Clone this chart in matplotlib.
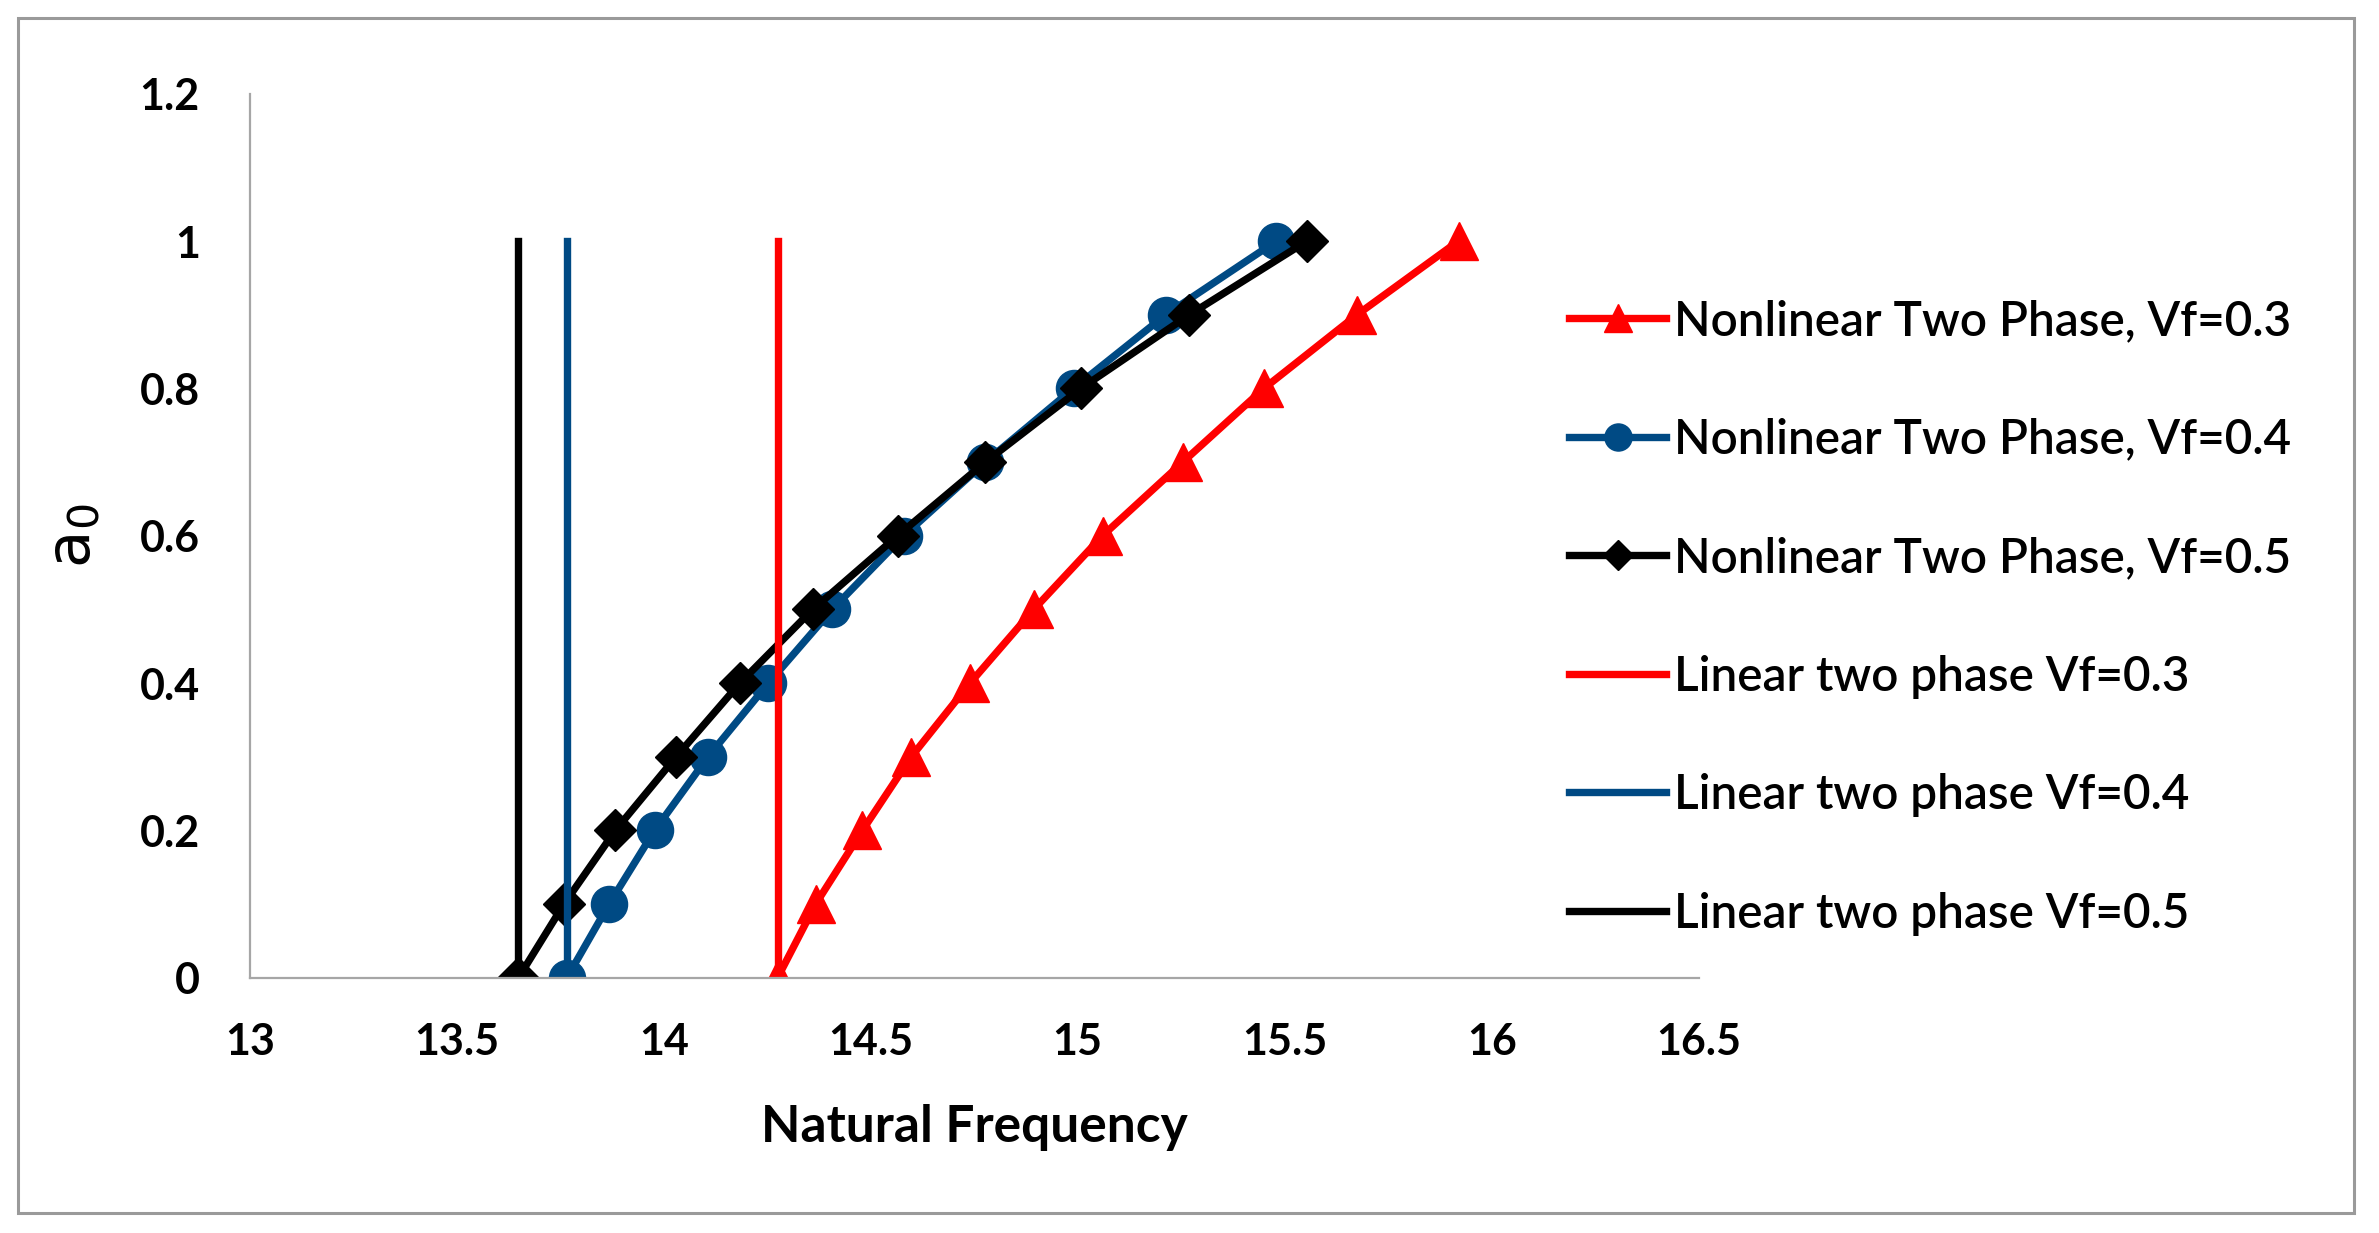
import numpy as np
import matplotlib
matplotlib.use("Agg")
import matplotlib.pyplot as plt
from matplotlib.patches import Rectangle

# a0 levels shared by all nonlinear curves
a0 = [0.0, 0.1, 0.2, 0.3, 0.4, 0.5, 0.6, 0.7, 0.8, 0.9, 1.0]

# natural frequency
freq_vf03 = [14.275, 14.367, 14.48, 14.598, 14.74, 14.894, 15.06, 15.254, 15.45, 15.675, 15.92]
freq_vf04 = [13.766, 13.868, 13.978, 14.107, 14.253, 14.407, 14.58, 14.777, 14.99, 15.213, 15.48]
freq_vf05 = [13.649, 13.759, 13.883, 14.03, 14.184, 14.36, 14.565, 14.777, 15.008, 15.27, 15.554]

# linear natural frequencies (vertical lines from a0=0 to a0=1)
linear_freq = [14.275, 13.766, 13.649]
linear_a0 = [0.0, 1.0]

labels_nl = ["Nonlinear Two Phase, Vf=0.3", "Nonlinear Two Phase, Vf=0.4",
             "Nonlinear Two Phase, Vf=0.5"]
labels_lin = ["Linear two phase Vf=0.3", "Linear two phase Vf=0.4",
              "Linear two phase Vf=0.5"]

xticks = [13, 13.5, 14, 14.5, 15, 15.5, 16, 16.5]
yticks = [0, 0.2, 0.4, 0.6, 0.8, 1.0, 1.2]

RED = "#FF0000"
BLUE = "#004A84"
BLACK = "#000000"

plt.rcParams["font.family"] = ["Lato", "DejaVu Sans"]

fig = plt.figure(figsize=(23.79, 12.33), dpi=100)
ax = fig.add_axes([0.105, 0.207, 0.609, 0.717])

lw = 5.3
ax.plot(freq_vf03, a0, "-^", color=RED, lw=lw, ms=27, label=labels_nl[0])
ax.plot(freq_vf04, a0, "-o", color=BLUE, lw=lw, ms=26, label=labels_nl[1])
ax.plot(freq_vf05, a0, "-D", color=BLACK, lw=lw, ms=21, label=labels_nl[2])

for f, c, lab in zip(linear_freq, [RED, BLUE, BLACK], labels_lin):
    ax.plot([f, f], linear_a0, "-", color=c, lw=lw, label=lab)

ax.set_xlim(13, 16.5)
ax.set_ylim(0, 1.2)
ax.set_xticks(xticks)
ax.set_xticklabels([f"{t:g}" for t in xticks])
ax.set_yticks(yticks)
ax.set_yticklabels([f"{t:g}" for t in yticks])
ax.tick_params(length=0)
ax.tick_params(axis="y", pad=36)
ax.tick_params(axis="x", pad=32)
for lbl in ax.get_xticklabels() + ax.get_yticklabels():
    lbl.set_fontweight("bold")
    lbl.set_fontsize(31)

for s in ["top", "right"]:
    ax.spines[s].set_visible(False)
for s in ["left", "bottom"]:
    ax.spines[s].set_color("#A6A6A6")
    ax.spines[s].set_linewidth(1.6)

ax.set_xlabel("Natural Frequency", fontsize=37, fontweight="bold", labelpad=30)
ax.set_ylabel(r"a$_0$", fontsize=44, family="DejaVu Sans", labelpad=26)

leg = fig.legend(loc="upper left", bbox_to_anchor=(0.6514, 0.773), frameon=False,
                 fontsize=34.3, handlelength=2.05, handletextpad=0.15,
                 labelspacing=1.565, borderaxespad=0, markerscale=0.75)
for t in leg.get_texts():
    t.set_fontweight("semibold")

# outer chart border
fig.patches.append(Rectangle((0.0077, 0.016), 0.982, 0.969, transform=fig.transFigure,
                             fill=False, edgecolor="#9A9A9A", lw=2.2))

fig.savefig("out.png", dpi=100)
